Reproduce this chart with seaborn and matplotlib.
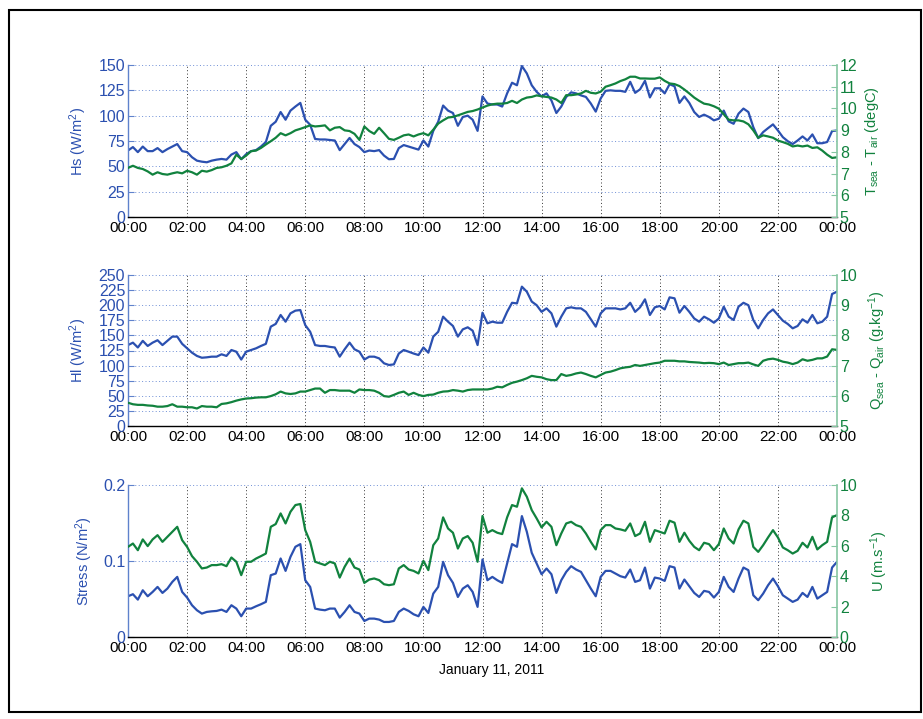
import numpy as np
import pandas as pd
import matplotlib
matplotlib.use("Agg")
import matplotlib.pyplot as plt
from matplotlib.patches import Rectangle
import seaborn as sns

# ---- time axis: 10-minute samples over one day (hours) ----
minutes = np.arange(0, 1441, 10)
hours = minutes / 60.0

# ---- sensible heat flux Hs (W/m2) ----
hs = [65.6, 69, 64, 69.5, 65, 65,
      68, 64, 67, 69.5, 72, 65,
      64, 59, 55.6, 54.6, 54, 55.6,
      56.6, 57.3, 56.6, 61.6, 64, 57,
      62, 65, 66, 69.5, 74, 90,
      94, 103.6, 96, 105, 109, 112.6,
      96, 91, 77, 76.5, 76.5, 76,
      75.5, 66, 72, 78, 72, 69,
      64, 65.6, 65, 66, 60.6, 57,
      57.3, 68, 71, 69.5, 68, 66.5,
      75.5, 69.5, 85, 94, 110, 105,
      102.6, 90, 98.7, 100, 96, 85,
      119, 112, 111, 111, 109, 122,
      132.5, 130, 149, 141.7, 130, 123.5,
      119, 122, 115, 102.6, 109, 118.5,
      123, 122, 120, 118.5, 112, 104,
      117, 124.5, 125, 124.5, 124.5, 123.5,
      133.4, 122.5, 126, 134.4, 118, 127,
      127, 122, 131, 129, 112.6, 119,
      112.6, 103.6, 98.7, 101, 98.7, 95.4,
      97, 105, 94.4, 92, 102, 107,
      103.6, 88.7, 77.8, 83.8, 87.7, 91.4,
      85.4, 78.8, 74.8, 72, 75.5, 79.5,
      75.5, 81.5, 72.8, 72.8, 74, 84.8,
      85.4]

# ---- sea-air temperature difference (degC) ----
dt = [7.26, 7.36, 7.26, 7.21, 7.10, 6.95,
      7.06, 6.98, 6.95, 7.01, 7.06, 7.01,
      7.13, 7.06, 6.95, 7.13, 7.09, 7.16,
      7.26, 7.29, 7.36, 7.47, 7.87, 7.67,
      7.83, 8.03, 8.06, 8.18, 8.34, 8.49,
      8.65, 8.86, 8.76, 8.86, 8.99, 9.06,
      9.14, 9.22, 9.17, 9.19, 9.22, 8.99,
      9.11, 9.14, 8.99, 8.96, 8.83, 8.55,
      9.17, 8.96, 8.83, 9.11, 8.86, 8.60,
      8.55, 8.65, 8.76, 8.80, 8.71, 8.80,
      8.86, 8.76, 9.02, 9.30, 9.45, 9.58,
      9.61, 9.68, 9.76, 9.84, 9.88, 9.95,
      10.04, 10.13, 10.19, 10.22, 10.22, 10.25,
      10.35, 10.25, 10.41, 10.50, 10.53, 10.60,
      10.56, 10.53, 10.50, 10.41, 10.25, 10.61,
      10.61, 10.64, 10.69, 10.81, 10.72, 10.69,
      10.77, 11.00, 11.07, 11.15, 11.26, 11.34,
      11.46, 11.46, 11.38, 11.38, 11.37, 11.37,
      11.43, 11.27, 11.15, 11.12, 11.03, 10.87,
      10.69, 10.50, 10.35, 10.22, 10.18, 10.10,
      9.99, 9.73, 9.48, 9.45, 9.45, 9.40,
      9.27, 8.99, 8.65, 8.76, 8.71, 8.65,
      8.52, 8.45, 8.37, 8.25, 8.29, 8.25,
      8.29, 8.18, 8.21, 8.06, 7.87, 7.72,
      7.75]

# ---- latent heat flux Hl (W/m2) ----
hl = [134, 138, 130, 141, 132.5, 138,
      142, 134, 141, 148, 148, 136,
      128.6, 121.4, 116, 113, 113.7, 114.8,
      114.8, 118.7, 116, 125.8, 123, 110,
      123, 125.8, 128.6, 132.5, 136, 164.5,
      169, 183.8, 172.7, 186.5, 191, 192,
      167, 156, 134, 132.5, 132.5, 131,
      130, 114.8, 127, 138, 127, 123,
      110, 114.8, 114.8, 112, 103.8, 101,
      102, 120, 125.8, 123, 120, 117.5,
      130, 121.4, 148, 156, 181, 172.7,
      165.6, 148, 160, 163.4, 157.8, 134,
      187.6, 170, 172.7, 171, 171, 189,
      204, 203, 230.7, 222.4, 206, 200,
      189, 194.8, 186.5, 164.5, 181, 194.8,
      196.5, 194.8, 194.8, 189, 176.6, 164.5,
      186.5, 194.8, 194.8, 194.8, 193, 194.8,
      204, 189, 196.5, 209.7, 183.8, 196.5,
      198.7, 193, 213, 211.4, 187.6, 198.7,
      189, 178, 172.7, 181, 176.6, 171,
      178, 197.6, 181, 175.5, 197.6, 204,
      200, 175.5, 161.7, 175.5, 186.5, 193,
      183.8, 174.4, 168.9, 161.7, 165.6, 176.6,
      171, 183.8, 170, 172.7, 181, 218.5,
      222.4]

# ---- sea-air humidity difference (g/kg) ----
dq = [5.77, 5.72, 5.70, 5.70, 5.68, 5.67,
      5.64, 5.64, 5.66, 5.72, 5.64, 5.64,
      5.62, 5.62, 5.58, 5.66, 5.64, 5.64,
      5.62, 5.73, 5.75, 5.79, 5.84, 5.88,
      5.91, 5.92, 5.94, 5.95, 5.95, 5.99,
      6.05, 6.14, 6.08, 6.06, 6.08, 6.14,
      6.14, 6.19, 6.24, 6.24, 6.10, 6.19,
      6.19, 6.17, 6.17, 6.17, 6.10, 6.21,
      6.19, 6.19, 6.17, 6.10, 5.99, 5.97,
      6.03, 6.10, 6.14, 6.03, 6.10, 6.03,
      5.99, 6.03, 6.04, 6.10, 6.14, 6.15,
      6.19, 6.17, 6.14, 6.19, 6.21, 6.21,
      6.21, 6.21, 6.24, 6.30, 6.28, 6.36,
      6.43, 6.47, 6.52, 6.58, 6.66, 6.63,
      6.61, 6.55, 6.52, 6.52, 6.72, 6.66,
      6.69, 6.74, 6.77, 6.72, 6.66, 6.61,
      6.69, 6.77, 6.80, 6.85, 6.91, 6.94,
      6.96, 7.02, 6.99, 7.02, 7.05, 7.08,
      7.10, 7.16, 7.16, 7.16, 7.14, 7.14,
      7.12, 7.11, 7.10, 7.08, 7.09, 7.08,
      7.05, 7.10, 7.02, 7.05, 7.08, 7.08,
      7.10, 7.04, 6.99, 7.16, 7.21, 7.23,
      7.19, 7.13, 7.10, 7.05, 7.10, 7.21,
      7.16, 7.19, 7.24, 7.24, 7.30, 7.54,
      7.52]

# ---- wind stress (N/m2) ----
stress = [0.0536, 0.0563, 0.0492, 0.0615, 0.0536, 0.0593,
          0.0659, 0.0580, 0.0637, 0.0725, 0.0791, 0.0593,
          0.0519, 0.0418, 0.0352, 0.0308, 0.0330, 0.0338,
          0.0343, 0.0360, 0.0330, 0.0418, 0.0374, 0.0273,
          0.0374, 0.0374, 0.0404, 0.0431, 0.0462, 0.0813,
          0.0835, 0.1033, 0.0870, 0.1055, 0.1187, 0.1222,
          0.0747, 0.0659, 0.0374, 0.0360, 0.0352, 0.0374,
          0.0374, 0.0255, 0.0330, 0.0418, 0.0330, 0.0308,
          0.0211, 0.0242, 0.0242, 0.0229, 0.0198, 0.0198,
          0.0211, 0.0330, 0.0374, 0.0343, 0.0299, 0.0273,
          0.0396, 0.0316, 0.0571, 0.0659, 0.0989, 0.0813,
          0.0712, 0.0527, 0.0637, 0.0681, 0.0593, 0.0396,
          0.1020, 0.0747, 0.0791, 0.0747, 0.0712, 0.0967,
          0.1222, 0.1187, 0.1591, 0.1385, 0.1108, 0.0967,
          0.0826, 0.0901, 0.0826, 0.0580, 0.0747, 0.0857,
          0.0932, 0.0888, 0.0857, 0.0747, 0.0637, 0.0536,
          0.0791, 0.0870, 0.0870, 0.0835, 0.0800, 0.0782,
          0.0888, 0.0725, 0.0747, 0.0914, 0.0637, 0.0782,
          0.0769, 0.0738, 0.0932, 0.0914, 0.0637, 0.0756,
          0.0668, 0.0580, 0.0527, 0.0607, 0.0593, 0.0519,
          0.0593, 0.0791, 0.0659, 0.0593, 0.0769, 0.0914,
          0.0879, 0.0549, 0.0484, 0.0571, 0.0681, 0.0769,
          0.0668, 0.0549, 0.0505, 0.0462, 0.0492, 0.0580,
          0.0527, 0.0659, 0.0505, 0.0549, 0.0593, 0.0914,
          0.0989]

# ---- wind speed U (m/s) ----
wind = [5.93, 6.15, 5.71, 6.42, 5.98, 6.42,
        6.70, 6.26, 6.59, 6.92, 7.25, 6.37,
        5.93, 5.32, 4.95, 4.51, 4.57, 4.73,
        4.73, 4.79, 4.66, 5.23, 4.95, 4.07,
        4.95, 4.95, 5.16, 5.32, 5.49, 7.25,
        7.43, 8.13, 7.47, 8.24, 8.68, 8.75,
        7.03, 6.26, 4.95, 4.84, 4.73, 4.95,
        4.84, 3.91, 4.62, 5.16, 4.57, 4.44,
        3.56, 3.78, 3.85, 3.74, 3.47, 3.41,
        3.47, 4.51, 4.73, 4.44, 4.35, 4.18,
        5.01, 4.40, 6.04, 6.48, 7.87, 7.14,
        6.86, 5.82, 6.48, 6.64, 6.20, 4.95,
        7.96, 6.86, 7.03, 6.86, 6.77, 7.87,
        8.68, 8.57, 9.78, 9.23, 8.35, 7.80,
        7.21, 7.58, 7.25, 6.04, 6.81, 7.47,
        7.58, 7.36, 7.25, 6.81, 6.26, 5.76,
        7.03, 7.36, 7.36, 7.14, 7.08, 6.99,
        7.47, 6.64, 6.81, 7.58, 6.26, 7.03,
        6.92, 6.81, 7.65, 7.52, 6.26, 6.86,
        6.33, 5.93, 5.71, 6.20, 6.11, 5.71,
        6.11, 7.14, 6.48, 6.15, 7.08, 7.65,
        7.47, 5.93, 5.60, 6.04, 6.55, 7.03,
        6.55, 5.89, 5.71, 5.49, 5.67, 6.20,
        5.89, 6.59, 5.76, 6.04, 6.26, 7.87,
        8.02]

time_ticks = list(range(0, 25, 2))
time_labels = ["00:00", "02:00", "04:00", "06:00", "08:00", "10:00", "12:00",
               "14:00", "16:00", "18:00", "20:00", "22:00", "00:00"]

panels = [
    dict(left=hs, right=dt, llim=(0, 150), lticks=list(range(0, 151, 25)),
         rlim=(5, 12), rticks=list(range(5, 13)),
         llabel="Hs (W/m$^2$)", rlabel="T$_{sea}$ - T$_{air}$ (degC)",
         lpos=-0.055, rpos=1.037),
    dict(left=hl, right=dq, llim=(0, 250), lticks=list(range(0, 251, 25)),
         rlim=(5, 10), rticks=list(range(5, 11)),
         llabel="Hl (W/m$^2$)", rlabel="Q$_{sea}$ - Q$_{air}$ (g.kg$^{-1}$)",
         lpos=-0.055, rpos=1.042),
    dict(left=stress, right=wind, llim=(0, 0.2), lticks=[0, 0.1, 0.2],
         rlim=(0, 10), rticks=list(range(0, 11, 2)),
         llabel="Stress (N/m$^2$)", rlabel="U (m.s$^{-1}$)",
         lpos=-0.047, rpos=1.044),
]

sns.set_theme(style="white")
plt.rcParams["font.family"] = ["Liberation Sans", "DejaVu Sans"]
plt.rcParams["mathtext.default"] = "regular"

BLUE = "#2b50b0"
GREEN = "#11823e"
BLUE_SPINE = "#5f82cc"
GREEN_SPINE = "#86c6a2"

W, H = 923, 719
fig = plt.figure(figsize=(W / 100, H / 100), dpi=100)
fig.patch.set_facecolor("white")

# axes boxes in pixels: (left, top, right, bottom)
boxes = [(128, 65, 837, 217), (128, 275, 837, 426), (128, 485, 837, 637)]

fs_xtick = 11
fs_ytick = 11.5
fs_label = 10.5

for box, p in zip(boxes, panels):
    l, t, r, b = box
    ax = fig.add_axes([l / W, 1 - b / H, (r - l) / W, (b - t) / H])
    df = pd.DataFrame({"time": hours, "left": p["left"], "right": p["right"]})

    sns.lineplot(data=df, x="time", y="left", ax=ax, color=BLUE, lw=1.6)
    ax.set_xlim(0, 24)
    ax.set_ylim(*p["llim"])
    ax.set_yticks(p["lticks"])
    ax.set_yticklabels([("%g" % v) for v in p["lticks"]])
    ax.set_xticks(time_ticks)
    ax.set_xticklabels(time_labels)
    ax.set_xlabel("")
    ax.set_ylabel(p["llabel"], color=BLUE, fontsize=fs_label)
    ax.yaxis.set_label_coords(p["lpos"], 0.5)

    ax.grid(False)
    for x in time_ticks[1:-1]:
        ax.axvline(x, color="#333333", ls=(0, (1, 2.5)), lw=0.7, zorder=0)
    for y in p["lticks"][1:]:
        ax.axhline(y, color="#6f8fd6", ls=(0, (1, 2.5)), lw=0.7, zorder=0)

    ax.tick_params(axis="x", direction="in", length=4, width=0.8, color="black",
                   labelsize=fs_xtick, labelcolor="black", pad=3)
    ax.tick_params(axis="y", direction="in", length=4, width=0.8, color=BLUE_SPINE,
                   labelsize=fs_ytick, labelcolor=BLUE, pad=2)
    ax.spines["top"].set_visible(False)
    ax.spines["right"].set_visible(False)
    ax.spines["left"].set_color(BLUE_SPINE)
    ax.spines["bottom"].set_color("black")
    ax.spines["left"].set_linewidth(1.0)
    ax.spines["bottom"].set_linewidth(1.0)

    ax2 = ax.twinx()
    sns.lineplot(data=df, x="time", y="right", ax=ax2, color=GREEN, lw=1.6)
    ax2.set_xlim(0, 24)
    ax2.set_ylim(*p["rlim"])
    ax2.set_yticks(p["rticks"])
    ax2.set_ylabel(p["rlabel"], color=GREEN, fontsize=fs_label)
    ax2.yaxis.set_label_coords(p["rpos"], 0.5)
    ax2.grid(False)
    ax2.tick_params(axis="y", direction="in", length=4, width=0.8, color=GREEN_SPINE,
                    labelsize=fs_ytick, labelcolor=GREEN, pad=2)
    for s in ["top", "left", "bottom"]:
        ax2.spines[s].set_visible(False)
    ax2.spines["right"].set_color(GREEN_SPINE)
    ax2.spines["right"].set_linewidth(1.2)

fig.text(492 / W, 1 - 670 / H, "January 11, 2011", ha="center", va="center",
         fontsize=10, color="black")

# outer frame
fig.add_artist(Rectangle((9 / W, 1 - 712 / H), (921 - 9) / W, (712 - 10) / H,
                         transform=fig.transFigure, fill=False, lw=1.5,
                         edgecolor="black"))

fig.savefig("out.png", dpi=100, facecolor="white")
